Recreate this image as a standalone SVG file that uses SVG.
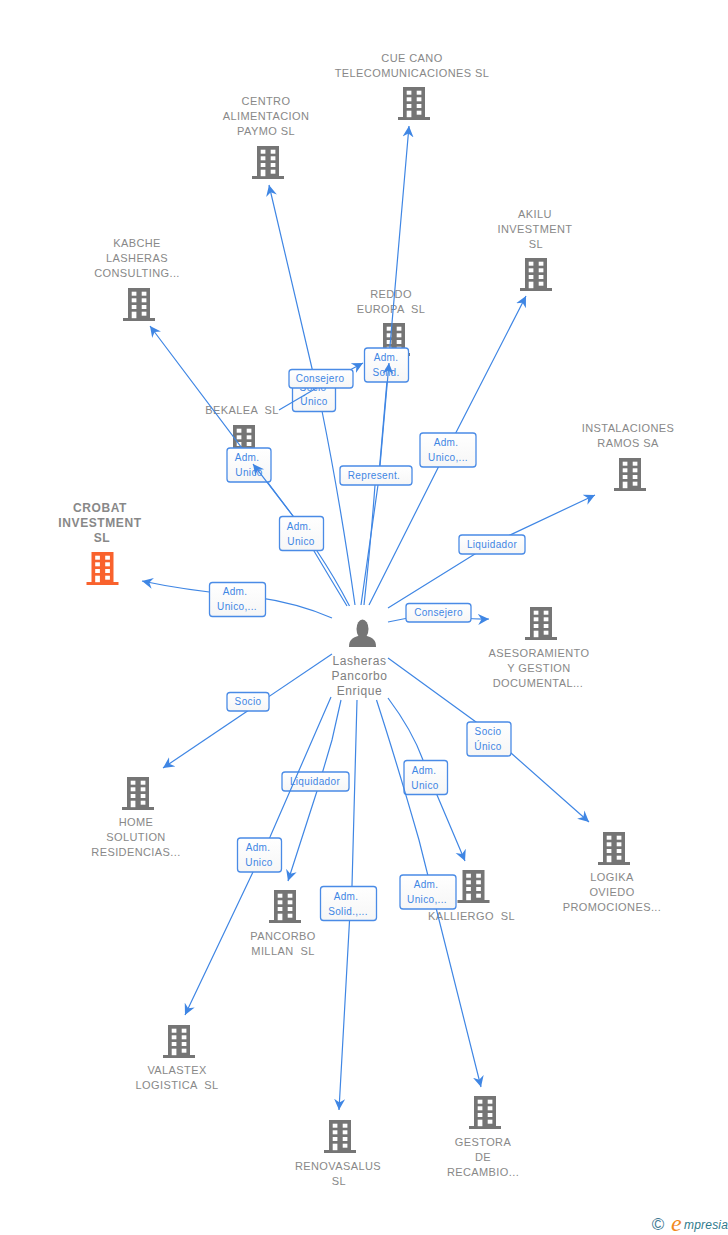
<svg xmlns="http://www.w3.org/2000/svg" width="728" height="1235" viewBox="0 0 728 1235">
<style>
text{font-family:"Liberation Sans",Arial,sans-serif;white-space:pre}
.n{font-size:11px;fill:#888;text-anchor:middle;letter-spacing:.4px}
.c{font-size:12px;font-weight:bold;fill:#888;text-anchor:middle;letter-spacing:.6px}
.p{font-size:12px;fill:#808080;text-anchor:middle;letter-spacing:.6px}
.e{fill:none;stroke:#3f86e4;stroke-width:1.2;marker-end:url(#a)}
.l{fill:none;stroke:#3f86e4;stroke-width:1.2}
.b{fill:url(#g);stroke:#4a8be6;stroke-width:1.3}
.t{font-size:10px;fill:#3f86e4;text-anchor:middle;letter-spacing:.35px}
</style>
<defs>
<linearGradient id="g" x1="0" y1="0" x2="0" y2="1"><stop offset="0" stop-color="#fff"/><stop offset="1" stop-color="#f6f6f6"/></linearGradient>
<marker id="a" markerUnits="userSpaceOnUse" markerWidth="13" markerHeight="13" refX="11" refY="6.500" orient="auto"><path d="M11 6.500L0 1L3.500 6.500L0 12Z" fill="#3f86e4"/></marker>
<g id="w"><rect x="-7.3" y="3.7" width="4.7" height="4"/><rect x="2.7" y="3.7" width="4.7" height="4"/><rect x="-7.3" y="10.3" width="4.7" height="4"/><rect x="2.7" y="10.3" width="4.7" height="4"/><rect x="-7.3" y="17" width="4.7" height="4"/><rect x="2.7" y="17" width="4.7" height="4"/><rect x="-7.3" y="23.7" width="4.7" height="6.5"/><rect x="2.7" y="23.7" width="4.7" height="4"/></g>
<g id="bd"><path d="M-11 0H11V30H16V33H-16V30H-11Z" fill="#757575"/><use href="#w" fill="#fff"/></g>
<g id="bo"><path d="M-11 0H11V30H16V33H-16V30H-11Z" fill="#f9622d"/><use href="#w" fill="#fff"/></g>
</defs>
<rect width="728" height="1235" fill="#fff"/>
<g id="nodes">
<g id="n-cue"><use href="#bd" x="414" y="87"/><text class="n" x="412" y="62">CUE CANO</text><text class="n" x="412" y="77">TELECOMUNICACIONES SL</text></g>
<g id="n-centro"><use href="#bd" x="268" y="146"/><text class="n" x="266" y="105">CENTRO</text><text class="n" x="266" y="120">ALIMENTACION</text><text class="n" x="266" y="135">PAYMO SL</text></g>
<g id="n-akilu"><use href="#bd" x="536" y="258"/><text class="n" x="535" y="218">AKILU</text><text class="n" x="535" y="233">INVESTMENT</text><text class="n" x="536" y="248">SL</text></g>
<g id="n-kabche"><use href="#bd" x="139" y="288"/><text class="n" x="137" y="247">KABCHE</text><text class="n" x="137" y="262">LASHERAS</text><text class="n" x="137" y="277">CONSULTING...</text></g>
<g id="n-reddo"><use href="#bd" x="394" y="323"/><text class="n" x="391" y="298">REDDO</text><text class="n" x="391" y="313">EUROPA  SL</text></g>
<g id="n-bekalea"><use href="#bd" x="244" y="425"/><text class="n" x="242" y="414">BEKALEA  SL</text></g>
<g id="n-inst"><use href="#bd" x="630" y="458"/><text class="n" x="628" y="432">INSTALACIONES</text><text class="n" x="628" y="447">RAMOS SA</text></g>
<g id="n-crobat"><use href="#bo" x="102.500" y="552"/><text class="c" x="100" y="512">CROBAT</text><text class="c" x="100" y="527">INVESTMENT</text><text class="c" x="102" y="542">SL</text></g>
<g id="n-ases"><use href="#bd" x="541" y="607"/><text class="n" x="539" y="657">ASESORAMIENTO</text><text class="n" x="539" y="672">Y GESTION</text><text class="n" x="538" y="687">DOCUMENTAL...</text></g>
<g id="n-home"><use href="#bd" x="138" y="777"/><text class="n" x="136" y="826">HOME</text><text class="n" x="136" y="841">SOLUTION</text><text class="n" x="136" y="856">RESIDENCIAS...</text></g>
<g id="n-logika"><use href="#bd" x="614" y="832"/><text class="n" x="612" y="881">LOGIKA</text><text class="n" x="612" y="896">OVIEDO</text><text class="n" x="612" y="911">PROMOCIONES...</text></g>
<g id="n-kalliergo"><use href="#bd" x="473.500" y="870"/><text class="n" x="471.500" y="920">KALLIERGO  SL</text></g>
<g id="n-pancorbo"><use href="#bd" x="285" y="890"/><text class="n" x="283" y="940">PANCORBO</text><text class="n" x="283" y="955">MILLAN  SL</text></g>
<g id="n-valastex"><use href="#bd" x="179" y="1025"/><text class="n" x="177" y="1074">VALASTEX</text><text class="n" x="177" y="1089">LOGISTICA  SL</text></g>
<g id="n-renov"><use href="#bd" x="340" y="1120"/><text class="n" x="338" y="1170">RENOVASALUS</text><text class="n" x="339" y="1185">SL</text></g>
<g id="n-gestora"><use href="#bd" x="485" y="1096"/><text class="n" x="483" y="1146">GESTORA</text><text class="n" x="483" y="1161">DE</text><text class="n" x="483" y="1176">RECAMBIO...</text></g>
<g id="n-person"><ellipse cx="362.500" cy="629" rx="6" ry="9.500" fill="#757575"/><path d="M349 647C349 640 352 638 358 636H367C373 638 376 640 376 647Z" fill="#757575"/><text class="p" x="359.500" y="665">Lasheras</text><text class="p" x="359.500" y="680">Pancorbo</text><text class="p" x="359.500" y="695">Enrique</text></g>
</g>
<g id="connectors">
<path class="e" d="M332 618Q290 600 237 595T142 581"/>
<rect class="b" x="209.500" y="582.500" width="56" height="34" rx="3"/><text class="t" x="235" y="595">Adm.</text><text class="t" x="237" y="610">Unico,...</text>
<path class="e" d="M347 606Q330 578 314 551L293 516L150 326"/>
<rect class="b" x="227" y="448" width="44" height="34" rx="3"/><text class="t" x="247" y="461">Adm.</text><text class="t" x="249" y="476">Unico</text>
<path class="e" d="M349.500 606Q335 578 317 551L293 516L253 464"/>
<rect class="b" x="279.500" y="516.500" width="44" height="34" rx="3"/><text class="t" x="299" y="530">Adm.</text><text class="t" x="301" y="545">Unico</text>
<path class="e" d="M355 605Q340 500 322 411L269 185"/>
<rect class="b" x="292.500" y="377.500" width="43" height="34" rx="3"/><text class="t" x="313" y="391">Socio</text><text class="t" x="314" y="405">Único</text>
<path class="e" d="M279 410L320 386L363 363"/>
<rect class="b" x="289" y="369.500" width="64" height="18.500" rx="3"/><text class="t" x="320" y="382">Consejero</text>
<path class="e" d="M361 605Q370 540 378 485L409 126"/>
<rect class="b" x="364.500" y="348" width="44" height="34" rx="3"/><text class="t" x="386" y="361">Adm.</text><text class="t" x="386" y="376">Solid.</text>
<path class="e" d="M364 605Q371 540 375 485L380 466L389 363"/>
<rect class="b" x="340" y="466" width="72" height="19" rx="3"/><text class="t" x="374" y="479">Represent.</text>
<path class="e" d="M369 605L447 450L526 296"/>
<rect class="b" x="420" y="433" width="56" height="34" rx="3"/><text class="t" x="446" y="446">Adm.</text><text class="t" x="448" y="461">Unico,...</text>
<path class="e" d="M388 608L491 544L595 495"/>
<rect class="b" x="459" y="535" width="66" height="19" rx="3"/><text class="t" x="492" y="548">Liquidador</text>
<path class="e" d="M388 622L438 612Q465 620 489 619"/>
<rect class="b" x="406" y="603.500" width="65" height="18.500" rx="3"/><text class="t" x="438.500" y="616">Consejero</text>
<path class="e" d="M388 658L476 722L511 753L589 822"/>
<rect class="b" x="467" y="722" width="44" height="34" rx="3"/><text class="t" x="488" y="735">Socio</text><text class="t" x="488" y="750">Único</text>
<path class="e" d="M332 654L163 768"/>
<rect class="b" x="227" y="692.500" width="42" height="18.500" rx="3"/><text class="t" x="248" y="705">Socio</text>
<path class="e" d="M388 698Q412 730 423 760L437 795L465 861"/>
<rect class="b" x="404" y="760.500" width="43.500" height="34" rx="3"/><text class="t" x="424" y="774">Adm.</text><text class="t" x="425" y="789">Unico</text>
<path class="e" d="M376.500 700Q396 760 419 840L481 1087"/>
<rect class="b" x="400" y="875" width="56" height="34" rx="3"/><text class="t" x="426" y="888">Adm.</text><text class="t" x="427" y="903">Unico,...</text>
<path class="e" d="M357 700L352 886L349.500 921L339 1110"/>
<rect class="b" x="320.500" y="886.500" width="56" height="34" rx="3"/><text class="t" x="346" y="900">Adm.</text><text class="t" x="348" y="915">Solid.,...</text>
<path class="e" d="M341 700L332 740L317 791L288 881"/>
<rect class="b" x="282" y="772" width="67" height="19" rx="3"/><text class="t" x="315" y="785">Liquidador</text>
<path class="e" d="M331 697L270 837L253 872L185 1015"/>
<rect class="b" x="237.500" y="838" width="44" height="34" rx="3"/><text class="t" x="258" y="851">Adm.</text><text class="t" x="259" y="866">Unico</text>
</g>
<g id="logo">
<text x="658" y="1230" font-size="17" fill="#3f7a93" text-anchor="middle">©</text>
<text x="671" y="1231" font-size="24" fill="#f28a1c" font-style="italic" style="font-family:'Liberation Serif',serif">e</text>
<text x="684" y="1229" font-size="12" fill="#2f7a8c" font-style="italic" letter-spacing=".2">mpresia</text>
</g>
</svg>
